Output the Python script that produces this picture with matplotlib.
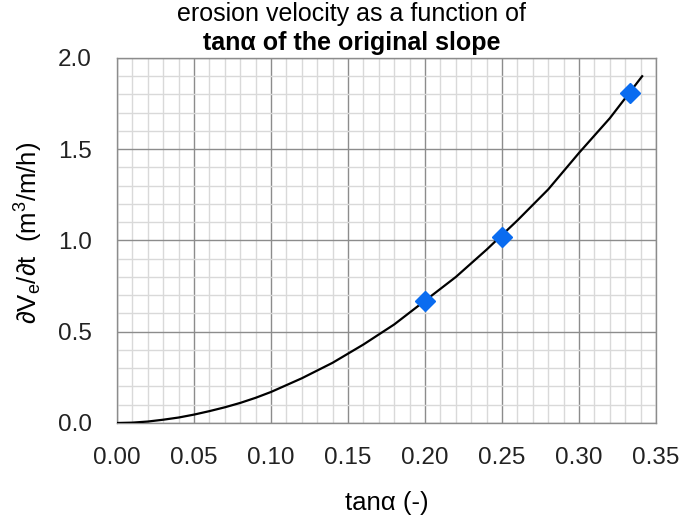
import numpy as np
import matplotlib
matplotlib.use('Agg')
import matplotlib.pyplot as plt
from matplotlib.ticker import MultipleLocator, FormatStrFormatter

plt.rcParams['font.family'] = ['Liberation Sans', 'DejaVu Sans']
plt.rcParams['mathtext.fontset'] = 'custom'
plt.rcParams['mathtext.rm'] = 'Liberation Sans'
plt.rcParams['mathtext.it'] = 'Liberation Sans:italic'

# fitted curve
curve_x = [0.00, 0.01, 0.02, 0.03, 0.04, 0.05, 0.06, 0.07, 0.08, 0.09, 0.10,
           0.12, 0.14, 0.16, 0.18, 0.20, 0.22, 0.24, 0.26, 0.28, 0.30, 0.32, 0.341]
curve_y = [0.000, 0.002, 0.008, 0.018, 0.030, 0.046, 0.065, 0.086, 0.110, 0.138, 0.170,
           0.245, 0.330, 0.430, 0.540, 0.670, 0.800, 0.950, 1.110, 1.280, 1.480, 1.670, 1.900]

# measured points
point_x = [0.20, 0.25, 0.333]
point_y = [0.67, 1.02, 1.81]

fig = plt.figure(figsize=(6.83, 5.21), dpi=100)
ax = fig.add_axes([0.1713, 0.1881, 0.7892, 0.7006])

ax.plot(curve_x, curve_y, color='black', lw=1.6, zorder=3)
ax.plot(point_x, point_y, 'D', color='#0a6cf0', ms=10, mec='#0a6cf0', zorder=4)

ax.set_xlim(0, 0.35)
ax.set_ylim(0, 2.0)
ax.xaxis.set_major_locator(MultipleLocator(0.05))
ax.xaxis.set_minor_locator(MultipleLocator(0.01))
ax.yaxis.set_major_locator(MultipleLocator(0.5))
ax.yaxis.set_minor_locator(MultipleLocator(0.1))
ax.xaxis.set_major_formatter(FormatStrFormatter('%.2f'))
ax.yaxis.set_major_formatter(FormatStrFormatter('%.1f'))

ax.grid(which='major', color='#8c8c8c', lw=1.0, zorder=1)
ax.grid(which='minor', color='#d9d9d9', lw=1.0, zorder=0)
ax.set_axisbelow(True)
ax.tick_params(which='both', length=0, labelsize=17.5, colors='#222222')
ax.tick_params(axis='x', pad=17)
ax.tick_params(axis='y', pad=18)
for s in ax.spines.values():
    s.set_color('#8c8c8c')
    s.set_linewidth(1.0)

ax.set_xlabel('tanα (-)', fontsize=18.5, labelpad=16)
ax.set_ylabel('∂V$_\\mathrm{e}$/∂t  (m$^3$/m/h)', fontsize=18.5)
ax.yaxis.set_label_coords(-0.133, 0.52)

fig.text(0.515, 0.973, 'erosion velocity as a function of', ha='center', va='center', fontsize=18)
fig.text(0.515, 0.918, 'tanα of the original slope', ha='center', va='center',
         fontsize=18, fontweight='bold')

fig.savefig('out.png', dpi=100)
